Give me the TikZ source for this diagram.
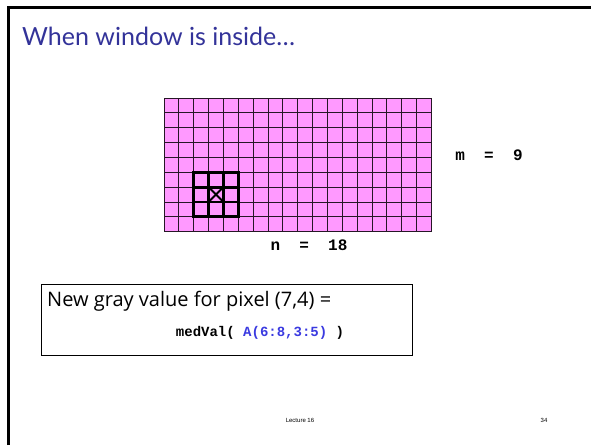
\documentclass[tikz,border=0pt]{standalone}
\usepackage{fontspec}
\usepackage{tikz}
\usetikzlibrary{positioning}
\setmainfont{Lato}
\newfontfamily\bodyfont{Open Sans}
\newfontfamily\codefont{Liberation Mono}
\newfontfamily\footfont{Liberation Sans}
\definecolor{baslikMavi}{HTML}{333399}
\definecolor{kodMavi}{HTML}{3A3AE0}
\definecolor{pikselPembe}{HTML}{FF99FF}

\begin{document}
\begin{tikzpicture}[x=1pt, y=-1pt,
  gridline/.style={black!85!pikselPembe, line width=0.8pt},
  winline/.style={black, line width=2.8pt},
  codetext/.style={font=\codefont\bfseries\fontsize{16}{18}\selectfont, inner sep=0pt}]
\useasboundingbox (0,0) rectangle (591,445);
% slide frame
\draw[line width=3pt] (8,445) -- (8,7) -- (591,7);
\node[anchor=west, inner sep=0pt, text=baslikMavi, font=\fontsize{25}{28}\selectfont] (title) at (22,36) {When window is inside\ldots};
% image grid, 18 x 9 pixels
\def\cs{14.85}
\coordinate (g0) at (164,98);
\fill[pikselPembe] (164,98) rectangle ({164+18*\cs},{98+9*\cs});
\foreach \i in {0,...,18}{
  \draw[gridline] ({164+\i*\cs},98) -- ({164+\i*\cs},{98+9*\cs});
}
\foreach \j in {0,...,9}{
  \draw[gridline] (164,{98+\j*\cs}) -- ({164+18*\cs},{98+\j*\cs});
}
\coordinate (g1) at ({164+18*\cs},{98+9*\cs});
% 3 x 3 window round pixel (7,4)
\draw[winline] ({164+2*\cs},{98+5*\cs}) rectangle ({164+5*\cs},{98+8*\cs});
\foreach \k in {3,4}{
  \draw[winline] ({164+\k*\cs},{98+5*\cs}) -- ({164+\k*\cs},{98+8*\cs});
}
\foreach \k in {6,7}{
  \draw[winline] ({164+2*\cs},{98+\k*\cs}) -- ({164+5*\cs},{98+\k*\cs});
}
\draw[black, line width=2pt] ({164+3*\cs},{98+6*\cs}) -- ({164+4*\cs},{98+7*\cs});
\draw[black, line width=2pt] ({164+4*\cs},{98+6*\cs}) -- ({164+3*\cs},{98+7*\cs});
\node[codetext] (mlab) at (489,155) {m\ \ =\ \ 9};
\node[codetext] (nlab) at (309,245) {n\ \ =\ \ 18};
% result box
\node[draw, line width=0.8pt, minimum width=371pt, minimum height=71pt, inner sep=0pt] (box) at (226.5,319.5) {};
\node[anchor=west, inner sep=0pt, font=\bodyfont\fontsize{20}{23}\selectfont] (newval) at (47,301) {New gray value for pixel (7,4) =};
\node[codetext, font=\codefont\bfseries\fontsize{14}{16}\selectfont] (medval) at (260,333) {medVal( \textcolor{kodMavi}{A(6:8,3:5)} )};
\node[font=\footfont\fontsize{6}{7}\selectfont] (lect) at (300,420) {Lecture 16};
\node[font=\footfont\fontsize{6}{7}\selectfont] (page) at (544,420) {34};
\end{tikzpicture}
\end{document}
